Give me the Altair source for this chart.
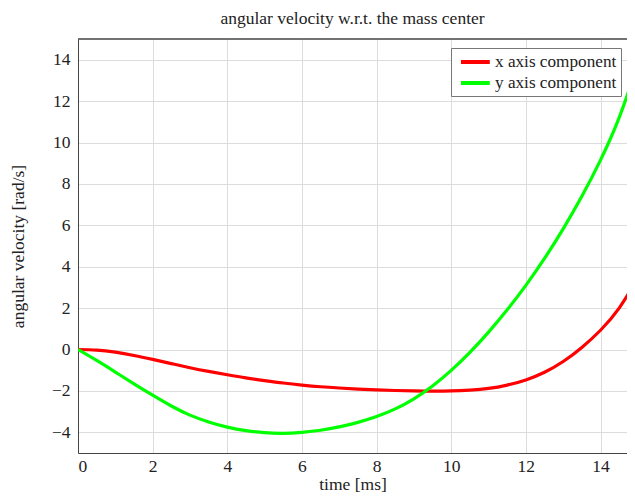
import altair as alt
import pandas as pd

t = [0, 0.5, 1, 1.5, 2, 2.5, 3, 3.5, 4, 4.5, 5, 5.5, 6, 6.5, 7, 7.5, 8, 8.5, 9, 9.5,
     10, 10.5, 11, 11.5, 12, 12.5, 13, 13.5, 14, 14.5, 15]
x_comp = [0, -0.03, -0.13, -0.29, -0.48, -0.68, -0.88, -1.06, -1.22, -1.37, -1.5, -1.62, -1.72,
          -1.8, -1.86, -1.91, -1.95, -1.98, -2.0, -2.01, -2.0, -1.96, -1.88, -1.72, -1.47, -1.1,
          -0.58, 0.1, 0.93, 2.0, 3.45]
y_comp = [0, -0.53, -1.09, -1.66, -2.21, -2.73, -3.17, -3.5, -3.75, -3.92, -4.02, -4.05, -4.0,
          -3.9, -3.74, -3.52, -3.24, -2.87, -2.38, -1.76, -1.01, -0.14, 0.84, 1.92, 3.1, 4.4,
          5.83, 7.4, 9.15, 11.2, 13.8]
series = ["x axis component", "y axis component"]
colors = ["#ff0000", "#00ff00"]
x_ticks = [0, 2, 4, 6, 8, 10, 12, 14]
y_ticks = [-4, -2, 0, 2, 4, 6, 8, 10, 12, 14]
y_range = [-5, 15]
x_range = [0, 14.71]

rows = []
for i, tv in enumerate(t):
    rows.append({"t": tv, "v": x_comp[i], "s": series[0], "o": i})
    rows.append({"t": tv, "v": y_comp[i], "s": series[1], "o": i})
df = pd.DataFrame(rows)

FONT = "Liberation Serif"
FS = 17.5

xs = alt.Scale(domain=x_range, nice=False, zero=False)
ys = alt.Scale(domain=y_range, nice=False)

lines = alt.Chart(df).mark_line(strokeWidth=3.2, clip=True, interpolate="natural").encode(
    x=alt.X("t:Q", title="time [ms]", scale=xs,
            axis=alt.Axis(values=x_ticks, labelPadding=4, titlePadding=1)),
    y=alt.Y("v:Q", title="angular velocity [rad/s]", scale=ys,
            axis=alt.Axis(values=y_ticks, labelPadding=8, titlePadding=24)),
    color=alt.Color("s:N", scale=alt.Scale(domain=series, range=colors),
                    legend=alt.Legend(title=None, orient="none", legendX=373, legendY=9,
                                      symbolType="M-1.8,0H1.8", symbolStrokeWidth=4,
                                      symbolSize=256, symbolOffset=10.4,
                                      labelFontSize=17.2, labelFont=FONT, labelColor="#222",
                                      strokeColor="#777", fillColor="white", padding=4,
                                      rowPadding=2, labelOffset=9.6, cornerRadius=0)),
    order="o:Q",
)

top_border = alt.Chart(pd.DataFrame({"v": [y_range[1]]})).mark_rule(
    color="#444", strokeWidth=1.5
).encode(y=alt.Y("v:Q", scale=ys))

chart = alt.layer(lines, top_border).properties(
    width=549, height=414,
    title=alt.TitleParams("angular velocity w.r.t. the mass center", font=FONT, fontSize=FS,
                          fontWeight="normal", color="#222", offset=11, anchor="middle"),
    autosize=alt.AutoSizeParams(type="none"),
    padding={"left": 70, "top": 31, "right": 0, "bottom": 40},
).configure_axis(
    labelFont=FONT, titleFont=FONT, labelFontSize=FS, titleFontSize=FS, titleFontWeight="normal",
    labelColor="#222", titleColor="#222", ticks=False, grid=True, gridColor="#dcdcdc",
    gridWidth=1, domainColor="#444", domainWidth=1
).configure_view(strokeWidth=0)

chart.save("out.html", embed_options={"renderer": "svg", "actions": False})
